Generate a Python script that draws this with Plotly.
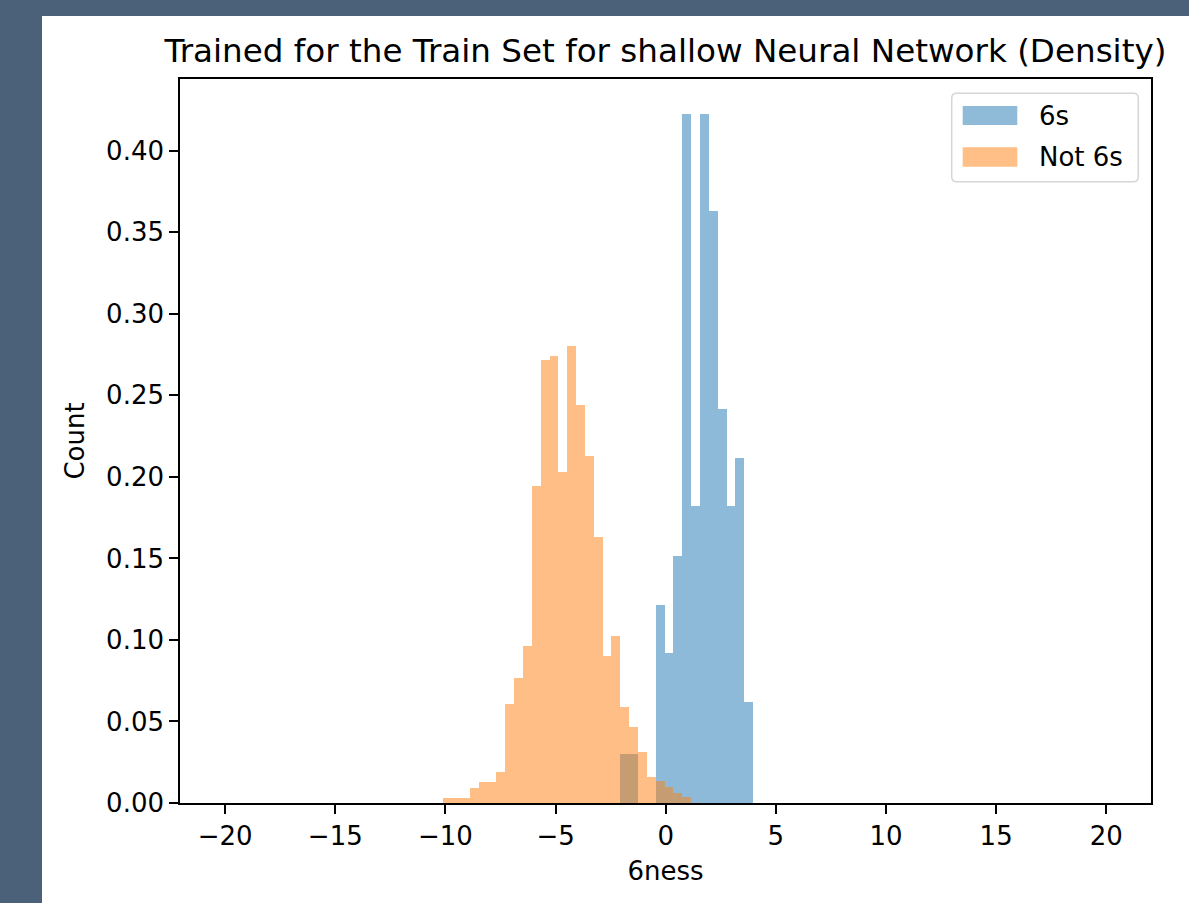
import plotly.graph_objects as go

# ---- data ----
# histogram bin edges (shared grid, width ~0.40)
bin_edges = [-10.095, -9.693, -9.291, -8.890, -8.488, -8.087, -7.685, -7.283, -6.881,
             -6.480, -6.078, -5.676, -5.275, -4.873, -4.471, -4.070, -3.668, -3.266,
             -2.864, -2.463, -2.061, -1.659, -1.258, -0.856, -0.454, -0.052, 0.349,
             0.751, 1.153, 1.554, 1.956, 2.358, 2.759, 3.161, 3.563, 3.965]

# "Not 6s" densities, bins 0..27
not6_density = [0.0033, 0.0033, 0.0033, 0.0094, 0.0131, 0.0131, 0.0190, 0.0609,
                0.0769, 0.0961, 0.1947, 0.2716, 0.2740, 0.2031, 0.2800, 0.2440,
                0.2125, 0.1634, 0.0902, 0.1023, 0.0589, 0.0468, 0.0313, 0.0160,
                0.0136, 0.0097, 0.0064, 0.0038]
not6_first_bin = 0

# "6s" densities, bins 20..34
six_density = [0.0299, 0.0299, 0.0, 0.0, 0.1215, 0.0920, 0.1517, 0.4228,
               0.1820, 0.4228, 0.3629, 0.2417, 0.1820, 0.2118, 0.0619]
six_first_bin = 20

x_ticks = [-20, -15, -10, -5, 0, 5, 10, 15, 20]
y_ticks = [0.00, 0.05, 0.10, 0.15, 0.20, 0.25, 0.30, 0.35, 0.40]

title_text = "Trained for the Train Set for shallow Neural Network (Density)"
x_label = "6ness"
y_label = "Count"
series_names = ["6s", "Not 6s"]

# ---- layout geometry (pixels) ----
W, H = 1189, 903
PL, PR, PT, PB = 180, 1151, 79, 803


def px_x(p):
    return (p - PL) / (PR - PL)


def px_y(p):
    return (PB - p) / (PB - PT)


def bars(first, vals):
    xs, ws = [], []
    for i in range(len(vals)):
        a, b = bin_edges[first + i], bin_edges[first + i + 1]
        xs.append((a + b) / 2)
        ws.append(b - a)
    return xs, ws


BLUE = "#1f77b4"
ORANGE = "#ff7f0e"
FONT = "DejaVu Sans"

fig = go.Figure()
sx, sw = bars(six_first_bin, six_density)
fig.add_trace(go.Bar(x=sx, y=six_density, width=sw, name=series_names[0],
                     marker=dict(color=BLUE, line=dict(width=0)), opacity=0.5,
                     showlegend=False))
nx, nw = bars(not6_first_bin, not6_density)
fig.add_trace(go.Bar(x=nx, y=not6_density, width=nw, name=series_names[1],
                     marker=dict(color=ORANGE, line=dict(width=0)), opacity=0.5,
                     showlegend=False))

shapes = []
# white figure panel on dark page
shapes.append(dict(type="rect", xref="paper", yref="paper", layer="below",
                   x0=px_x(42), x1=px_x(W + 5), y0=px_y(16), y1=px_y(H + 5),
                   fillcolor="white", line=dict(width=0)))

# legend frame (rounded)
lx0, lx1, ly0, ly1 = 951.7, 1138.3, 93.3, 181.7
r = 5


def P(x, y):
    return f"{px_x(x):.5f},{px_y(y):.5f}"


path = (f"M {P(lx0 + r, ly0)} L {P(lx1 - r, ly0)} Q {P(lx1, ly0)} {P(lx1, ly0 + r)} "
        f"L {P(lx1, ly1 - r)} Q {P(lx1, ly1)} {P(lx1 - r, ly1)} "
        f"L {P(lx0 + r, ly1)} Q {P(lx0, ly1)} {P(lx0, ly1 - r)} "
        f"L {P(lx0, ly0 + r)} Q {P(lx0, ly0)} {P(lx0 + r, ly0)} Z")
shapes.append(dict(type="path", xref="paper", yref="paper", path=path,
                   fillcolor="rgba(255,255,255,0.8)", line=dict(color="#d6d6d6", width=1.5)))
# legend patches
for (y0, y1, col) in [(106, 125, "rgba(31,119,180,0.5)"), (147.3, 166.7, "rgba(255,127,14,0.5)")]:
    shapes.append(dict(type="rect", xref="paper", yref="paper",
                       x0=px_x(962.7), x1=px_x(1017.3), y0=px_y(y1), y1=px_y(y0),
                       fillcolor=col, line=dict(width=0)))

annotations = []
for name, yc in zip(series_names, [115.5, 157]):
    annotations.append(dict(text=name, xref="paper", yref="paper", x=px_x(1037), y=px_y(yc),
                            xanchor="left", yanchor="middle", showarrow=False,
                            font=dict(family=FONT, size=26, color="black")))

fig.update_layout(
    width=W, height=H,
    margin=dict(l=PL, r=W - PR, t=PT, b=H - PB, pad=0),
    paper_bgcolor="#4b6079", plot_bgcolor="white",
    barmode="overlay", bargap=0, showlegend=False,
    title=dict(text=title_text, x=0.5, xref="paper", xanchor="center",
               y=1 - 51 / H, yref="container", yanchor="middle",
               font=dict(family=FONT, size=32.6, color="black")),
    shapes=shapes, annotations=annotations,
    font=dict(family=FONT, size=26, color="black"),
)

fig.update_xaxes(range=[-22.05, 22.03], tickvals=x_ticks,
                 ticktext=[str(v).replace("-", "\u2212") for v in x_ticks],
                 ticks="outside", ticklen=9, tickwidth=1.6, tickcolor="black",
                 showline=True, linecolor="black", linewidth=1.6, mirror=True,
                 showgrid=False, zeroline=False,
                 tickfont=dict(family=FONT, size=26, color="black"),
                 title=dict(text=x_label, font=dict(family=FONT, size=26, color="black"), standoff=12))
fig.update_yaxes(range=[0, 0.444], tickvals=y_ticks,
                 ticktext=[f"{v:.2f}" for v in y_ticks],
                 ticks="outside", ticklen=9, tickwidth=1.6, tickcolor="black",
                 showline=True, linecolor="black", linewidth=1.6, mirror=True,
                 showgrid=False, zeroline=False,
                 tickfont=dict(family=FONT, size=26, color="black"),
                 title=dict(text=y_label, font=dict(family=FONT, size=26, color="black"), standoff=14))

fig.write_html("out.html")
